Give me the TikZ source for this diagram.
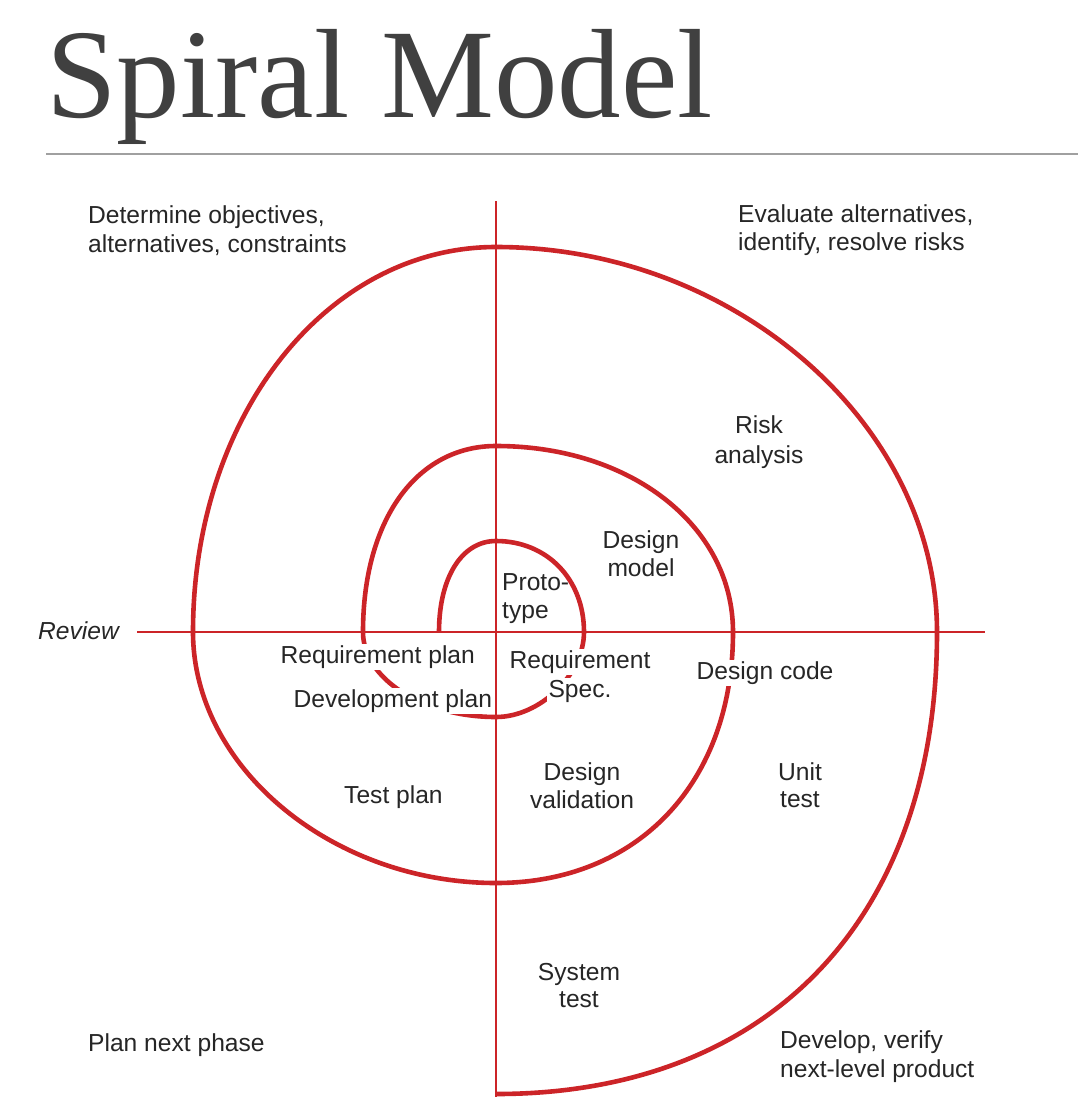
\documentclass[tikz,border=0pt]{standalone}
\usepackage{fontspec}
\setmainfont{Liberation Serif}
\newfontfamily\labelfont{Liberation Sans}
\definecolor{spiralred}{RGB}{204,36,40}
\definecolor{titlegray}{RGB}{64,64,64}
\definecolor{rulegray}{RGB}{160,160,160}
\definecolor{txt}{RGB}{38,38,38}
\begin{document}
\begin{tikzpicture}[x=1pt,y=-1pt,
  lbl/.style={font=\labelfont\fontsize{24.6}{29}\selectfont, text=txt, inner sep=0pt},
  lw/.style={lbl, anchor=base west},
  lc/.style={lbl, anchor=base},
  mask/.style={fill=white, inner sep=1.5pt},
  axis/.style={draw=spiralred, line width=2.4pt},
  spiral/.style={draw=spiralred, line width=4.6pt, line join=round}]
\useasboundingbox (0,0) rectangle (1078,1106);
\fill[white] (0,0) rectangle (1078,1106);

% title and rule
\node[font=\fontsize{127}{130}\selectfont, text=titlegray, anchor=base west, inner sep=0pt] (title) at (46,117) {Spiral Model};
\coordinate (ruleL) at (46,154);
\coordinate (ruleR) at (1078,154);
\draw[rulegray, line width=2pt] (ruleL) -- (ruleR);

% axes
\coordinate (c) at (496,632);
\coordinate (vtop) at (496,201);
\coordinate (vbot) at (496,1097);
\coordinate (hl) at (137,632);
\coordinate (hr) at (985,632);
\draw[axis] (vtop) -- (vbot);
\draw[axis] (hl) -- (hr);

% spiral
\coordinate (s0) at (439,632);
\coordinate (s11) at (496,1094);
\path[spiral] (s0)
  .. controls (439,577.4) and (461.8,541) .. (496,541)
  .. controls (547,541) and (584,579.2) .. (584,632)
  .. controls (584,674.5) and (540,717) .. (496,717)
  .. controls (422.8,717) and (363,678.8) .. (363,632)
  .. controls (363,520.4) and (416.2,446) .. (496,446)
  .. controls (631.1,446) and (733,526) .. (733,632)
  .. controls (733,782.6) and (638.2,883) .. (496,883)
  .. controls (332.4,883) and (193,767.5) .. (193,632)
  .. controls (193,416.4) and (326.3,247) .. (496,247)
  .. controls (734.1,247) and (937,424.1) .. (937,632)
  .. controls (937,918.4) and (769.4,1094) .. (s11);

% quadrant labels
\node[lw] (det1) at (88,223) {Determine objectives,};
\node[lw] (det2) at (88,252) {alternatives, constraints};
\node[lw] (ev1) at (738,222) {Evaluate alternatives,};
\node[lw] (ev2) at (738,250) {identify, resolve risks};
\node[lw] (pnp) at (88,1051) {Plan next phase};
\node[lw] (dvp1) at (780,1048) {Develop, verify};
\node[lw] (dvp2) at (780,1077) {next-level product};
\node[lw, font=\labelfont\itshape\fontsize{24.6}{29}\selectfont] (review) at (38,639) {Review};

% inner labels
\node[lc] (risk1) at (759,433) {Risk};
\node[lc] (risk2) at (759,463) {analysis};
\node[lc] (dm1) at (641,548) {Design};
\node[lc] (dm2) at (641,576) {model};
\node[lw] (pr1) at (502,590) {Proto-};
\node[lw] (pr2) at (502,618) {type};
\node[lw, mask] (reqplan) at (279,663) {Requirement plan};
\node[lc, mask] (rs1) at (580,668) {Requirement};
\node[lc, mask] (rs2) at (580,697) {Spec.};
\node[lw, mask] (dcode) at (695,679) {Design code};
\node[lw, mask] (devplan) at (292,707) {Development plan};
\node[lc] (dv1) at (582,780) {Design};
\node[lc] (dv2) at (582,808) {validation};
\node[lc] (ut1) at (800,780) {Unit};
\node[lc] (ut2) at (800,807) {test};
\node[lw] (tp) at (344,803) {Test plan};
\node[lc] (st1) at (579,980) {System};
\node[lc] (st2) at (579,1007) {test};
\end{tikzpicture}
\end{document}
